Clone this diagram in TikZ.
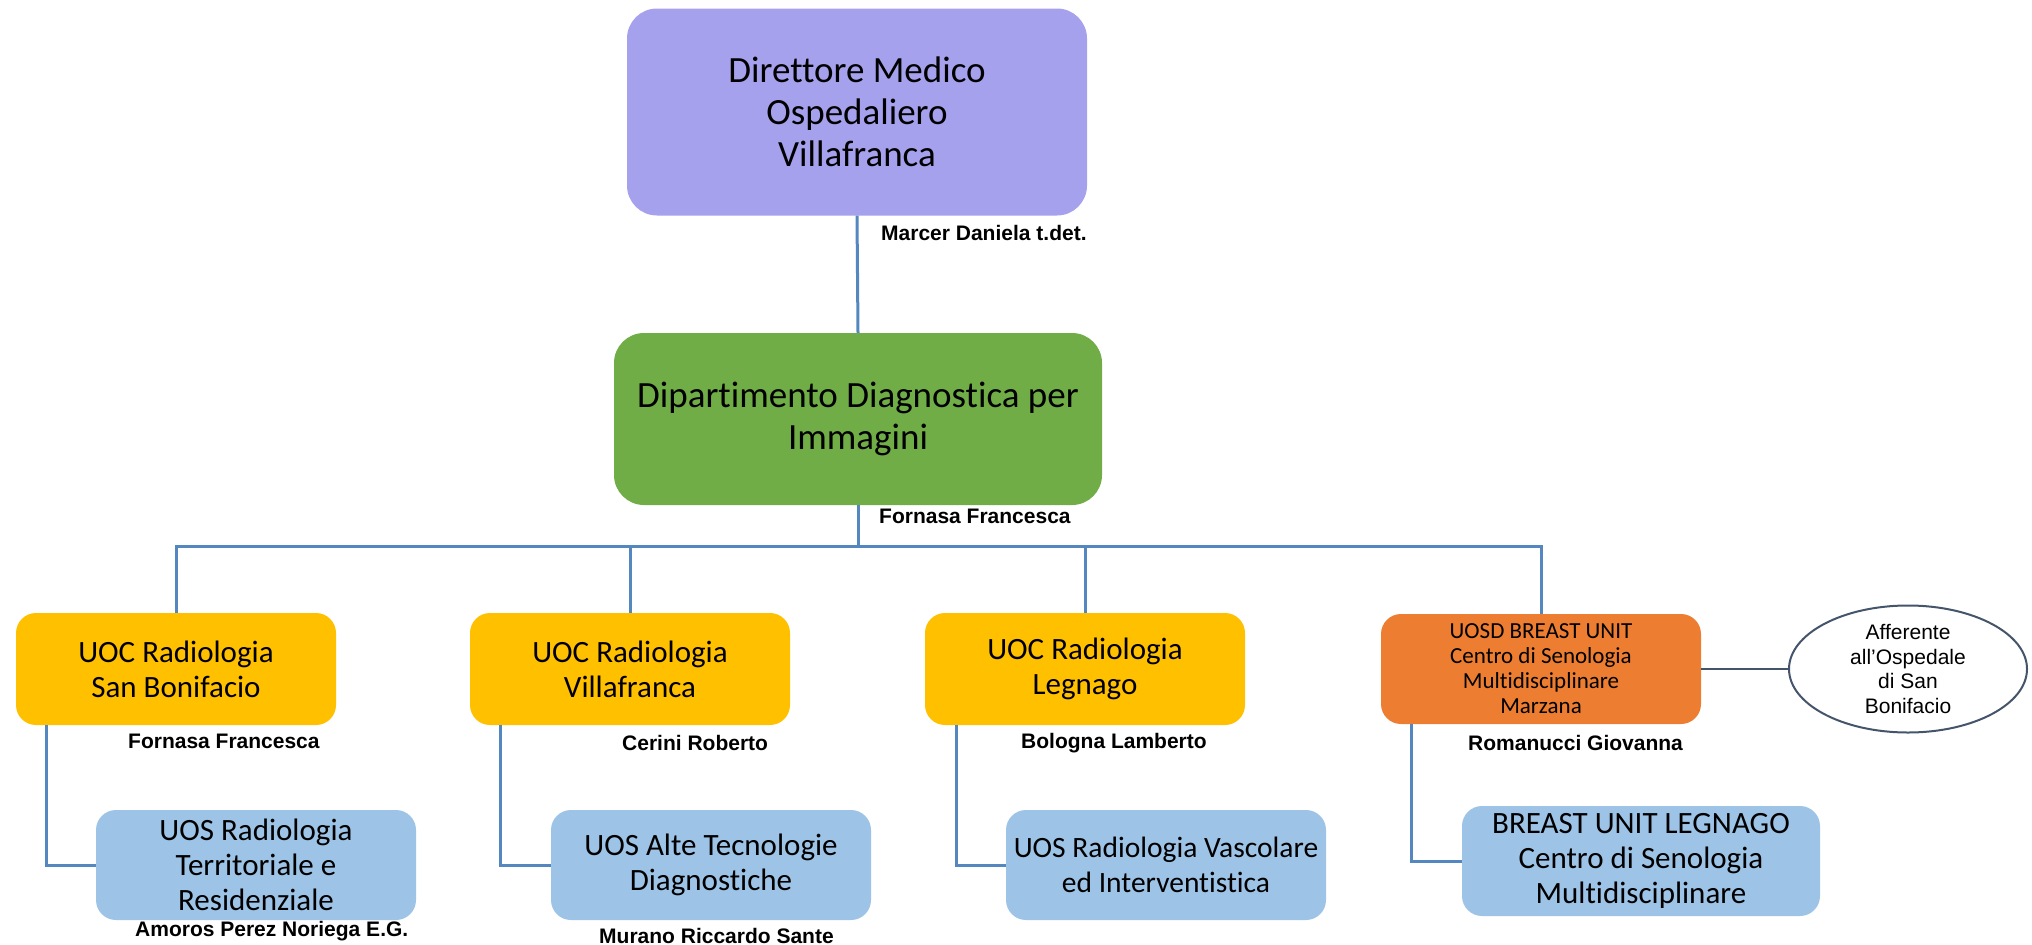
\documentclass[tikz,border=0pt]{standalone}
\usepackage{fontspec}
\setmainfont{Carlito}[Ligatures=NoCommon]
\newfontfamily\arialfont{Liberation Sans}
\usetikzlibrary{shapes.geometric}

\definecolor{lavender}{RGB}{166,161,237}
\definecolor{deptgreen}{RGB}{112,173,71}
\definecolor{uocyellow}{RGB}{255,192,0}
\definecolor{uosdorange}{RGB}{237,125,49}
\definecolor{uosblue}{RGB}{157,195,230}
\definecolor{linkblue}{RGB}{84,135,192}
\definecolor{slate}{RGB}{68,84,106}

\begin{document}
\begin{tikzpicture}[x = 1pt, y = -1pt,
    head/.style = {rectangle, rounded corners = 30, inner sep = 0, align = center,
                   font = \fontsize{37}{42}\selectfont},
    unit/.style = {rectangle, rounded corners = 20, inner sep = 0, align = center,
                   minimum width = 320, minimum height = 112,
                   font = \fontsize{31}{35}\selectfont},
    person/.style = {anchor = west, inner sep = 0,
                     font = \arialfont\bfseries\fontsize{21}{24}\selectfont},
    link/.style = {draw = linkblue, line width = 3}]
        \useasboundingbox (0,0) rectangle (2032,945);
        \node[head, fill=lavender, minimum width=460, minimum height=207] (dir) at (857,112) {Direttore Medico\\Ospedaliero\\Villafranca};
        \node[head, fill=deptgreen, minimum width=488, minimum height=172] (dip) at (858,419) {Dipartimento Diagnostica per\\Immagini};
        \node[unit, fill=uocyellow] (sanbon) at (176,669) {UOC Radiologia\\San Bonifacio};
        \node[unit, fill=uocyellow] (villa) at (630,669) {UOC Radiologia\\Villafranca};
        \node[unit, fill=uocyellow] (legn) at (1085,669) {UOC Radiologia\\Legnago};
        \node[unit, fill=uosdorange, minimum height=110, font=\fontsize{23}{25}\selectfont] (breast) at (1541,669) {UOSD BREAST UNIT\\Centro di Senologia\\Multidisciplinare\\Marzana};
        \node[ellipse, draw=slate, line width=2, minimum width=238, minimum height=127, inner sep=0, align=center,
              font=\arialfont\fontsize{21}{24.5}\selectfont] (aff) at (1908,669) {Afferente\\all’Ospedale\\di San\\Bonifacio};
        \node[unit, fill=uosblue, minimum height=110] (terr) at (256,865) {UOS Radiologia\\Territoriale e\\Residenziale};
        \node[unit, fill=uosblue, minimum height=110] (alte) at (711,865) {UOS Alte Tecnologie\\Diagnostiche};
        \node[unit, fill=uosblue, minimum height=110, font=\fontsize{29.5}{35}\selectfont] (vasc) at (1166,865) {UOS Radiologia Vascolare\\ed Interventistica};
        \node[unit, fill=uosblue, minimum width=358, minimum height=110] (legbreast) at (1641,861) {BREAST UNIT LEGNAGO\\Centro di Senologia\\Multidisciplinare};
        \node[person] (marcer) at (881,233) {Marcer Daniela t.det.};
        \node[person] (fornasadip) at (879,516) {Fornasa Francesca};
        \node[person] (fornasasb) at (128,741) {Fornasa Francesca};
        \node[person] (cerini) at (622,743) {Cerini Roberto};
        \node[person] (bologna) at (1021,743) {Bologna Lamberto};
        \node[person] (romanucci) at (1468,743) {Romanucci Giovanna};
        \node[person] (amoros) at (135,931) {Amoros Perez Noriega E.G.};
        \node[person] (murano) at (599,936) {Murano Riccardo Sante};
        \coordinate (bus) at (858,546);
        \draw[link] (dir.south) -- (dip.north);
        \draw[link] (dip.south) -- (dip.south |- bus);
        \draw[link] (sanbon.north) |- (bus) -| (breast.north);
        \draw[link] (villa.north) -- (villa.north |- bus);
        \draw[link] (legn.north) -- (legn.north |- bus);
        \draw[link] ([xshift=31]sanbon.south west) |- (terr.west);
        \draw[link] ([xshift=31]villa.south west) |- (alte.west);
        \draw[link] ([xshift=32]legn.south west) |- (vasc.west);
        \draw[link] ([xshift=31]breast.south west) |- (legbreast.west);
        \draw[draw=slate, line width=2.5] (breast.east) -- (aff.west);
      \end{tikzpicture}
\end{document}
